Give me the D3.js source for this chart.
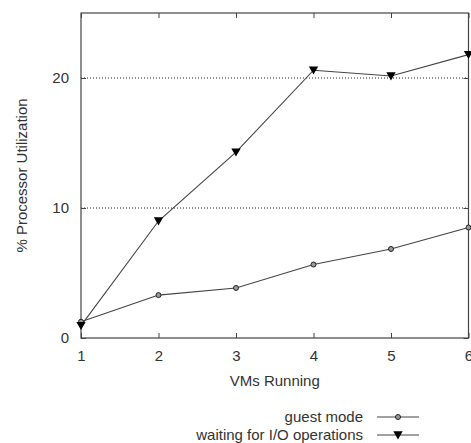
<!DOCTYPE html>
<html><head><meta charset="utf-8">
<script src="https://cdn.jsdelivr.net/npm/d3@7"></script>
<style>
body{margin:0;background:#fff;}
text{font-family:"Liberation Sans",Arial,sans-serif;fill:#333;}
</style></head>
<body>
<svg id="c" width="471" height="443"></svg>
<script>
const vms = [1, 2, 3, 4, 5, 6];
const guestMode = [1.25, 3.3, 3.85, 5.65, 6.85, 8.5];
const waitingIO = [0.95, 9.0, 14.3, 20.6, 20.15, 21.8];
const yTicks = [0, 10, 20];
const xTicks = [1, 2, 3, 4, 5, 6];
const seriesNames = ["guest mode", "waiting for I/O operations"];

const svg = d3.select("#c");
const m = {l: 81, r: 468.5, t: 13, b: 338};
const x = d3.scaleLinear().domain([1, 6]).range([m.l, m.r]);
const y = d3.scaleLinear().domain([0, 25]).range([m.b, m.t]);
const col = "#444";

// gridlines
svg.append("g").selectAll("line").data([10, 20]).join("line")
  .attr("x1", m.l).attr("x2", m.r)
  .attr("y1", d => y(d)).attr("y2", d => y(d))
  .attr("stroke", "#222").attr("stroke-width", 1).attr("stroke-dasharray", "1,2");

// frame
svg.append("rect").attr("x", m.l).attr("y", m.t)
  .attr("width", m.r - m.l).attr("height", m.b - m.t)
  .attr("fill", "none").attr("stroke", col).attr("stroke-width", 1.2);

// axes with inward ticks
const xb = svg.append("g").attr("transform", `translate(0,${m.b})`)
  .call(d3.axisBottom(x).tickValues(xTicks).tickFormat(d3.format("d")).tickSizeInner(-5).tickSizeOuter(0).tickPadding(12));
const xt = svg.append("g").attr("transform", `translate(0,${m.t})`)
  .call(d3.axisTop(x).tickValues(xTicks).tickFormat("").tickSizeInner(-5).tickSizeOuter(0));
const yl = svg.append("g").attr("transform", `translate(${m.l},0)`)
  .call(d3.axisLeft(y).tickValues(yTicks).tickFormat(d3.format("d")).tickSizeInner(-5).tickSizeOuter(0).tickPadding(12));
const yr = svg.append("g").attr("transform", `translate(${m.r},0)`)
  .call(d3.axisRight(y).tickValues(yTicks).tickFormat("").tickSizeInner(-5).tickSizeOuter(0));
[xb, xt, yl, yr].forEach(g => {
  g.select(".domain").remove();
  g.selectAll(".tick line").attr("stroke", col);
  g.selectAll(".tick text").style("font-size", "15px").attr("fill", "#333")
   .style("font-family", "'Liberation Sans',Arial,sans-serif");
});

// axis titles
svg.append("text").attr("x", (m.l + m.r) / 2).attr("y", 386)
  .attr("text-anchor", "middle").style("font-size", "15px").text("VMs Running");
svg.append("text").attr("transform", `translate(27,${(m.t + m.b) / 2}) rotate(-90)`)
  .attr("text-anchor", "middle").style("font-size", "15px").text("% Processor Utilization");

const line = d3.line().x((d, i) => x(vms[i])).y(d => y(d));
const tri = d3.symbol().type(d3.symbolTriangle).size(38);

// series
svg.append("path").datum(waitingIO).attr("d", line).attr("fill", "none").attr("stroke", col).attr("stroke-width", 1.1);
svg.append("path").datum(guestMode).attr("d", line).attr("fill", "none").attr("stroke", col).attr("stroke-width", 1.1);

svg.append("g").selectAll("circle").data(guestMode).join("circle")
  .attr("cx", (d, i) => x(vms[i])).attr("cy", d => y(d)).attr("r", 2.5)
  .attr("fill", "#999").attr("stroke", "#222").attr("stroke-width", 1);
svg.append("g").selectAll("path").data(waitingIO).join("path")
  .attr("d", tri).attr("transform", (d, i) => `translate(${x(vms[i])},${y(d) - 1}) rotate(180)`)
  .attr("fill", "#000");

// legend
const lg = svg.append("g");
const ly = [417, 435];
seriesNames.forEach((n, i) => {
  lg.append("text").attr("x", 363).attr("y", ly[i]).attr("dy", "0.35em")
    .attr("text-anchor", "end").style("font-size", "15px").text(n);
  lg.append("line").attr("x1", 377).attr("x2", 419).attr("y1", ly[i]).attr("y2", ly[i])
    .attr("stroke", col).attr("stroke-width", 1.1);
});
lg.append("circle").attr("cx", 398).attr("cy", ly[0]).attr("r", 2.5)
  .attr("fill", "#999").attr("stroke", "#222");
lg.append("path").attr("d", tri).attr("transform", `translate(398,${ly[1] - 1}) rotate(180)`).attr("fill", "#000");
</script>
</body></html>
